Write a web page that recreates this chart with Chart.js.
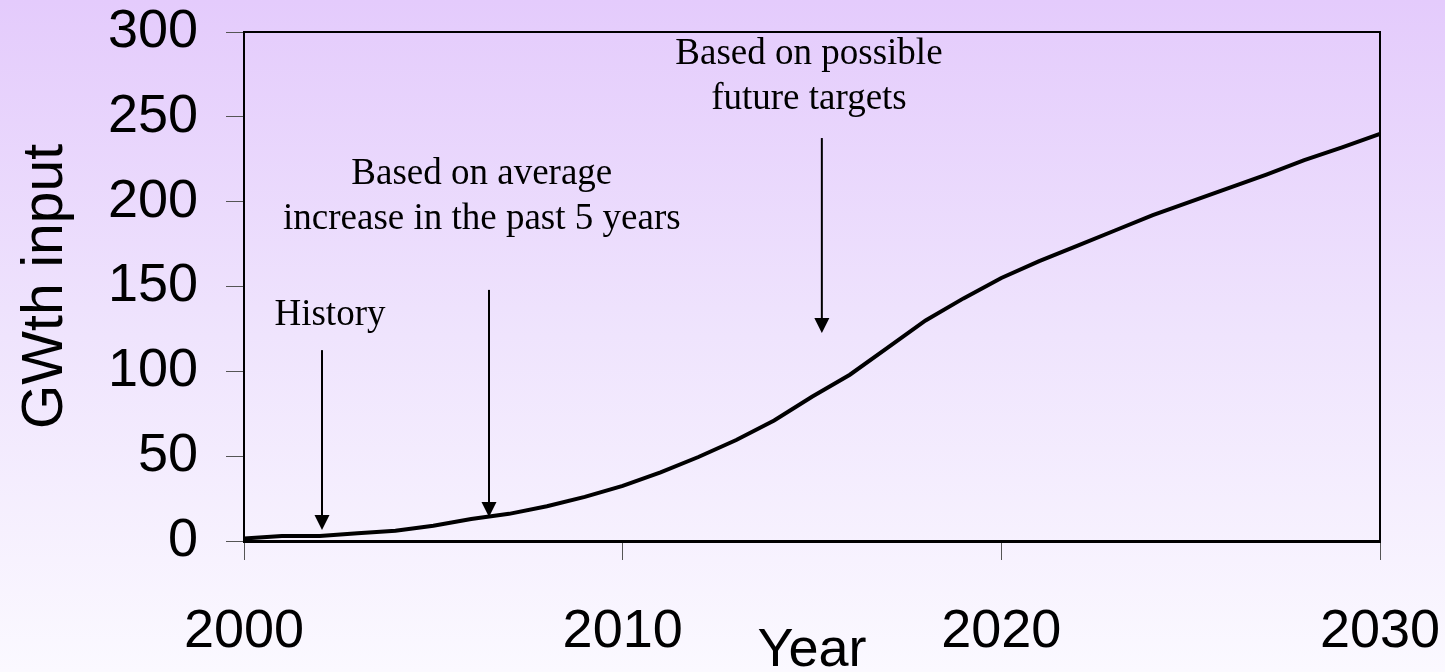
<!DOCTYPE html>
<html>
<head>
<meta charset="utf-8">
<script src="https://cdn.jsdelivr.net/npm/chart.js@4"></script>
<style>
  html, body { margin: 0; padding: 0; }
  body {
    width: 1445px; height: 672px; overflow: hidden;
    background: linear-gradient(to bottom, #e4cbfc 0%, #efe4fd 50%, #fbf9ff 100%);
  }
  #wrap { width: 1445px; height: 672px; }
</style>
</head>
<body>
<div id="wrap"><canvas id="solar"></canvas></div>
<script>
var years = [2000, 2001, 2002, 2003, 2004, 2005, 2006, 2007, 2008, 2009,
             2010, 2011, 2012, 2013, 2014, 2015, 2016, 2017, 2018, 2019,
             2020, 2021, 2022, 2023, 2024, 2025, 2026, 2027, 2028, 2029, 2030];
var gwth = [1.5, 3, 3, 4.5, 6, 9, 13, 16, 20.5, 26,
            32.5, 40.5, 49.5, 59.5, 71, 85, 98, 114, 130, 143,
            155, 165, 174, 183, 192, 200, 208, 216, 224.5, 232, 240];
var xTicks = [2000, 2010, 2020, 2030];
var yTicks = [0, 50, 100, 150, 200, 250, 300];

// notes: text lines, where the text sits, and the arrow in data units
var noteLines = [['History'], ['Based on average', 'increase in the past 5 years'], ['Based on possible', 'future targets']];
var noteTextX = [2002.27, 2006.28, 2014.92];
var noteTextY = [127.3, 210.4, 281];
var arrowX = [2002.06, 2006.47, 2015.26];
var arrowTop = [112.5, 148, 237.5];
var arrowTip = [6.5, 14.1, 122.6];

var frame = {
  id: 'frame',
  afterDraw: function (chart) {
    var a = chart.chartArea, c = chart.ctx;
    c.save();
    c.strokeStyle = '#000';
    c.lineWidth = 2;
    c.beginPath();
    c.moveTo(a.left, a.top);
    c.lineTo(a.right, a.top);
    c.lineTo(a.right, a.bottom);
    c.stroke();
    c.restore();
  }
};

var notes = {
  id: 'notes',
  afterDatasetsDraw: function (chart) {
    var c = chart.ctx, xs = chart.scales.x, ys = chart.scales.y;
    c.save();
    c.fillStyle = '#000';
    c.strokeStyle = '#000';
    c.font = '37px "Liberation Serif", "Times New Roman", serif';
    c.textAlign = 'center';
    c.textBaseline = 'alphabetic';
    var lineGap = 45;
    for (var i = 0; i < noteLines.length; i++) {
      var tx = xs.getPixelForValue(noteTextX[i]);
      var ty = ys.getPixelForValue(noteTextY[i]);
      var lines = noteLines[i];
      for (var j = 0; j < lines.length; j++) {
        c.fillText(lines[j], tx, ty + j * lineGap);
      }
      var ax = xs.getPixelForValue(arrowX[i]);
      var top = ys.getPixelForValue(arrowTop[i]);
      var tip = ys.getPixelForValue(arrowTip[i]);
      c.lineWidth = 2;
      c.beginPath();
      c.moveTo(ax, top);
      c.lineTo(ax, tip - 10);
      c.stroke();
      c.beginPath();
      c.moveTo(ax, tip);
      c.lineTo(ax - 7.5, tip - 15);
      c.lineTo(ax + 7.5, tip - 15);
      c.closePath();
      c.fill();
    }
    c.restore();
  }
};

var tickFont = { family: '"Liberation Sans", Arial, sans-serif', size: 54 };

document.addEventListener('DOMContentLoaded', function () {
  new Chart(document.getElementById('solar').getContext('2d'), {
    type: 'line',
    data: {
      labels: years,
      datasets: [{
        label: 'GWth input',
        data: years.map(function (y, i) { return { x: y, y: gwth[i] }; }),
        borderColor: '#000',
        borderWidth: 4,
        pointRadius: 0,
        tension: 0,
        fill: false
      }]
    },
    options: {
      responsive: true,
      maintainAspectRatio: false,
      animation: false,
      layout: { padding: 0 },
      plugins: { legend: { display: false }, tooltip: { enabled: false } },
      scales: {
        x: {
          type: 'linear',
          min: 2000,
          max: 2030,
          afterBuildTicks: function (s) { s.ticks = xTicks.map(function (v) { return { value: v }; }); },
          afterFit: function (s) { s.height = 131; s.paddingLeft = 0; s.paddingRight = 65; },
          ticks: { font: tickFont, color: '#000', padding: 40, maxRotation: 0, callback: function (v) { return String(v); } },
          grid: { drawOnChartArea: false, tickLength: 19, color: '#555', lineWidth: 1 },
          border: { color: '#000', width: 3 },
          title: { display: true, text: 'Year', font: tickFont, color: '#000', padding: { top: 0, bottom: -12 } }
        },
        y: {
          min: 0,
          max: 300,
          afterBuildTicks: function (s) { s.ticks = yTicks.map(function (v) { return { value: v }; }); },
          afterFit: function (s) { s.width = 244; s.paddingTop = 32; s.paddingBottom = 0; },
          ticks: { font: tickFont, color: '#000', padding: 28 },
          grid: { drawOnChartArea: false, tickLength: 18, color: '#555', lineWidth: 1 },
          border: { color: '#000', width: 2 },
          title: { display: true, text: 'GWth input', font: { family: tickFont.family, size: 57 }, color: '#000', padding: { top: 12, bottom: 0 } }
        }
      }
    },
    plugins: [frame, notes]
  });
});
</script>
</body>
</html>
